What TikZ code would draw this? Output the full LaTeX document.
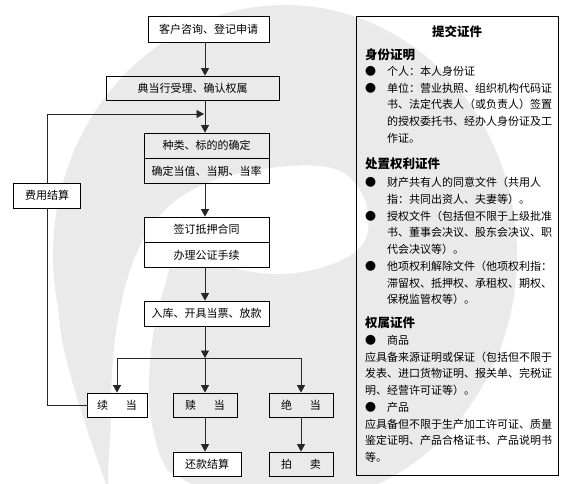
\documentclass[tikz,border=0pt]{standalone}
\usepackage{fontspec}
\setmainfont{Noto Sans CJK SC}
\usetikzlibrary{arrows.meta,positioning}
\definecolor{MarkGrey}{HTML}{EAEAEA}

\begin{document}
\begin{tikzpicture}[x=1pt,y=-1pt,
  box/.style={draw,line width=.8pt,minimum height=25pt,inner sep=0pt,font=\fontsize{11}{13}\selectfont},
  wbox/.style={box,fill=white},
  link/.style={draw=black!85,line width=.8pt},
  arr/.style={link,-{Triangle[width=8pt,length=7.5pt]}},
  txt/.style={align=left,inner sep=0pt,font=\fontsize{11}{16.75}\selectfont},
  hd/.style={inner sep=0pt,font=\bfseries\fontsize{12.5}{15}\selectfont}]
\useasboundingbox (0,0) rectangle (572,483);
% watermark
\begin{scope}
\clip (0,0) rectangle (572,483);
\fill[MarkGrey] (285,255) ellipse [x radius=232pt,y radius=250pt];
\fill[MarkGrey] plot[smooth] coordinates {(53,250) (62,340) (83,417) (108,490)} -- (160,490) -- (160,250) -- cycle;
\fill[white] plot[smooth cycle,tension=.6] coordinates {(114,500) (111,420) (115,340) (132,265) (163,212) (215,180) (290,166) (340,171) (364,198) (368,230) (355,252) (320,268) (275,274) (225,266) (180,251) (165,285) (153,335) (149,400) (158,450) (176,500)};
\end{scope}
\coordinate (spine) at (205,0);
\coordinate (merge) at (204,114);
\coordinate (fork) at (205,358);
% flow
\node[wbox,minimum width=121pt,minimum height=26pt] (apply) at (208.5,29) {客户咨询、登记申请};
\node[box,minimum width=173pt,minimum height=24pt] (accept) at (192.5,88) {典当行受理、确认权属};
\node[box,minimum width=125pt] (kind) at (206.5,145.5) {种类、标的的确定};
\node[box,minimum width=125pt,below=0pt of kind] (value) {确定当值、当期、当率};
\node[wbox,minimum width=125pt] (sign) at (206.5,229.5) {签订抵押合同};
\node[wbox,minimum width=125pt,below=0pt of sign] (notary) {办理公证手续};
\node[wbox,minimum width=125pt] (loan) at (206.5,313.5) {入库、开具当票、放款};
\node[wbox,minimum width=60pt,minimum height=24pt] (renew) at (117,405) {续\hspace{1.6em}当};
\node[box,minimum width=64pt,minimum height=24pt] (redeem) at (205,405) {赎\hspace{1.6em}当};
\node[box,minimum width=64pt,minimum height=24pt] (forfeit) at (301,405) {绝\hspace{1.6em}当};
\node[wbox,minimum width=68pt,minimum height=24pt] (repay) at (207,464) {还款结算};
\node[box,minimum width=64pt,minimum height=24pt] (auction) at (301,464) {拍\hspace{1.6em}卖};
\node[wbox,minimum width=67pt] (fee) at (47,195.5) {费用结算};
\draw[arr] (apply.south -| spine) -- (accept.north -| spine);
\draw[arr] (accept.south -| spine) -- (kind.north -| spine);
\draw[arr] (value.south -| spine) -- (sign.north -| spine);
\draw[arr] (notary.south -| spine) -- (loan.north -| spine);
\draw[arr] (loan.south -| spine) -- (fork);
\draw[arr] (fork) -| (renew.north);
\draw[arr] (fork) -- (redeem.north -| spine);
\draw[arr] (fork) -| (forfeit.north);
\draw[arr] (redeem.south -| spine) -- (repay.north -| spine);
\draw[arr] (forfeit.south) -- (auction.north);
\draw[link] (renew.west) -| (fee.south);
\draw[arr] (fee.north) |- (merge);
% documents
\node[draw,line width=.8pt,minimum width=202pt,minimum height=459pt,inner sep=0pt] (panel) at (457,245.5) {};
\node[hd] (title) at (457,32) {提交证件};
\node[hd,anchor=west] (idhd) at (365,55) {身份证明};
\node[txt,anchor=north west] (idlist) at (365,66) {\makebox[22pt][l]{●}个人：本人身份证\\
\makebox[22pt][l]{●}单位：营业执照、组织机构代码证\\
\hspace*{22pt}书、法定代表人（或负责人）签置\\
\hspace*{22pt}的授权委托书、经办人身份证及工\\
\hspace*{22pt}作证。};
\node[hd,anchor=west] (righthd) at (365,164) {处置权利证件};
\node[txt,anchor=north west] (rightlist) at (365,177) {\makebox[22pt][l]{●}财产共有人的同意文件（共用人\\
\hspace*{22pt}指：共同出资人、夫妻等）。\\
\makebox[22pt][l]{●}授权文件（包括但不限于上级批准\\
\hspace*{22pt}书、董事会决议、股东会决议、职\\
\hspace*{22pt}代会决议等）。\\
\makebox[22pt][l]{●}他项权利解除文件（他项权利指：\\
\hspace*{22pt}滞留权、抵押权、承租权、期权、\\
\hspace*{22pt}保税监管权等）。};
\node[hd,anchor=west] (ownhd) at (365,323) {权属证件};
\node[txt,anchor=north west] (ownlist) at (365,335) {\makebox[22pt][l]{●}商品\\
应具备来源证明或保证（包括但不限于\\
发表、进口货物证明、报关单、完税证\\
明、经营许可证等）。\\
\makebox[22pt][l]{●}产品\\
应具备但不限于生产加工许可证、质量\\
鉴定证明、产品合格证书、产品说明书\\
等。};
\end{tikzpicture}
\end{document}
